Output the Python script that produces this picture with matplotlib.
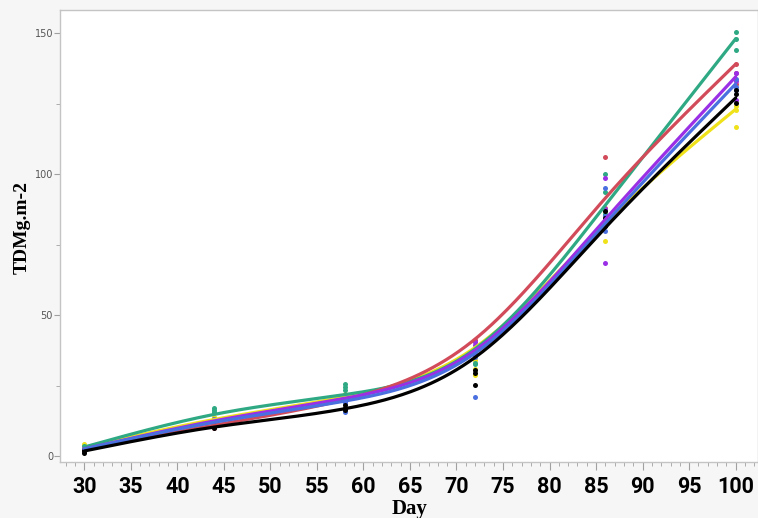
import numpy as np
import matplotlib
matplotlib.use("Agg")
import matplotlib.pyplot as plt
from matplotlib.ticker import MultipleLocator

days = [30, 44, 58, 72, 86, 100]
series_names = ["yellow", "green", "red", "purple", "blue", "black"]
colors = {"green": "#2ea983", "red": "#d24b5a", "purple": "#9a2fe6",
          "blue": "#4a70e0", "black": "#000000", "yellow": "#efe21a"}

# fitted curve values at each day
fit_yellow = [3.0, 13.0, 21.0, 38.5, 82.5, 123.0]
fit_green = [3.2, 14.8, 21.8, 38.0, 89.0, 148.0]
fit_red = [2.5, 11.0, 20.0, 41.5, 91.5, 139.0]
fit_purple = [2.5, 12.5, 20.5, 37.5, 84.0, 134.5]
fit_blue = [2.5, 12.0, 19.5, 36.5, 82.5, 132.0]
fit_black = [1.8, 10.3, 16.8, 35.0, 81.0, 127.0]

# replicate observations (3 per day)
obs_yellow = [[4.2, 3.5, 3.0], [14.0, 13.5, 13.0], [22.0, 21.0, 20.5],
              [28.7, 34.0, 31.0], [76.3, 83.0, 87.0], [122.9, 116.6, 124.0]]
obs_green = [[3.0, 2.5, 3.5], [17.0, 16.3, 15.5], [25.5, 24.5, 23.4],
             [33.0, 32.6, 38.0], [99.9, 93.5, 86.0], [150.5, 144.0, 148.0]]
obs_red = [[2.5, 2.0, 3.0], [10.0, 11.0, 12.0], [19.5, 20.5, 21.0],
           [41.0, 38.0, 36.0], [105.9, 88.0, 82.0], [138.9, 132.1, 136.0]]
obs_purple = [[2.0, 2.8, 3.0], [13.0, 12.5, 12.0], [21.0, 20.0, 19.5],
              [40.4, 39.4, 36.0], [98.5, 87.8, 68.5], [135.9, 126.2, 133.0]]
obs_blue = [[2.0, 2.5, 3.0], [12.0, 11.5, 13.0], [15.6, 19.0, 20.0],
            [21.0, 37.0, 35.0], [94.9, 85.0, 80.0], [133.7, 131.0, 130.0]]
obs_black = [[1.2, 1.8, 2.2], [10.5, 10.0, 11.0], [18.0, 17.0, 16.5],
             [30.5, 29.4, 25.2], [86.9, 84.6, 81.7], [129.8, 128.4, 125.3]]

fits = {"yellow": fit_yellow, "green": fit_green, "red": fit_red,
        "purple": fit_purple, "blue": fit_blue, "black": fit_black}
obs = {"yellow": obs_yellow, "green": obs_green, "red": obs_red,
       "purple": obs_purple, "blue": obs_blue, "black": obs_black}


def natural_spline(x, y, xs):
    x = np.asarray(x, float); y = np.asarray(y, float)
    n = len(x)
    h = np.diff(x)
    A = np.zeros((n, n)); b = np.zeros(n)
    A[0, 0] = 1; A[-1, -1] = 1
    for i in range(1, n - 1):
        A[i, i - 1] = h[i - 1]; A[i, i] = 2 * (h[i - 1] + h[i]); A[i, i + 1] = h[i]
        b[i] = 3 * ((y[i + 1] - y[i]) / h[i] - (y[i] - y[i - 1]) / h[i - 1])
    c = np.linalg.solve(A, b)
    out = np.empty_like(xs)
    for k, xv in enumerate(xs):
        i = min(max(np.searchsorted(x, xv) - 1, 0), n - 2)
        dx = xv - x[i]
        bb = (y[i + 1] - y[i]) / h[i] - h[i] * (2 * c[i] + c[i + 1]) / 3
        d = (c[i + 1] - c[i]) / (3 * h[i])
        out[k] = y[i] + bb * dx + c[i] * dx ** 2 + d * dx ** 3
    return out


fig = plt.figure(figsize=(7.58, 5.18), dpi=100, facecolor="#f6f6f6")
ax = fig.add_axes([60 / 758, 56 / 518, 698 / 758, 452 / 518])
ax.set_facecolor("white")

xs = np.linspace(days[0], days[-1], 300)
for name in series_names:
    for d, vals in zip(days, obs[name]):
        ax.plot([d] * len(vals), vals, "o", color=colors[name], ms=3.6,
                mec="none", zorder=3)
for name in series_names:
    ax.plot(xs, natural_spline(days, fits[name], xs), color=colors[name],
            lw=2.3, zorder=4, solid_capstyle="round")

ax.set_xlim(27.4, 102.4)
ax.set_ylim(-2.1, 158.2)
ax.xaxis.set_major_locator(MultipleLocator(5))
ax.xaxis.set_minor_locator(MultipleLocator(1))
ax.yaxis.set_major_locator(MultipleLocator(50))
ax.yaxis.set_minor_locator(MultipleLocator(25))

for s in ax.spines.values():
    s.set_color("#c4c4c4")
    s.set_linewidth(1.0)
ax.tick_params(axis="x", which="major", length=6, color="#a0a0a0", pad=4)
ax.tick_params(axis="x", which="minor", length=3, color="#a0a0a0")
ax.tick_params(axis="y", which="major", length=4, color="#a0a0a0",
               labelsize=7, labelcolor="#555555", pad=1)
ax.tick_params(axis="y", which="minor", length=3, color="#a0a0a0")
for lab in ax.get_xticklabels():
    lab.set_fontfamily(["Roboto", "DejaVu Sans"])
    lab.set_fontweight("bold")
    lab.set_fontsize(15.5)

fig.text(410 / 758, 1 - 509 / 518, "Day", ha="center", va="center",
         fontfamily=["Liberation Serif", "DejaVu Serif"], fontweight="bold",
         fontsize=15)
fig.text(22 / 758, 1 - 228 / 518, "TDMg.m-2", ha="center", va="center",
         rotation=90, fontfamily=["Liberation Serif", "DejaVu Serif"],
         fontweight="bold", fontsize=14)

fig.savefig("out.png", dpi=100, facecolor=fig.get_facecolor())
